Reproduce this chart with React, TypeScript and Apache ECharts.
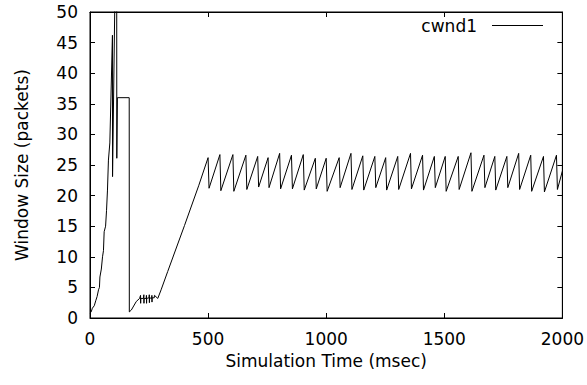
import React, { useEffect, useRef } from "react";
import * as echarts from "echarts";

// Slow start, loss and the 36-packet plateau (msec, packets)
const slowStartTime = [0, 5, 10, 18, 25, 30, 36, 40, 42, 48, 53, 57, 60, 66, 70, 74, 78, 84, 95, 95.5, 108, 113, 113.5, 116, 166, 166.5];
const slowStartCwnd = [0.8, 1, 1.6, 2, 2.9, 3.5, 4.6, 5, 6.7, 8, 10, 11, 14.1, 15, 17.6, 20.9, 25.8, 28.6, 46.2, 23.1, 60, 60, 26.1, 36, 36, 1];

// Recovery and linear growth
const recoveryTime = [175, 196, 210, 214, 214.5, 215, 226, 228, 228.5, 229, 238, 239, 239.5, 240, 250, 251, 251.5, 252, 261, 262, 262.5, 263, 272, 273, 287, 301, 329, 400, 460];
const recoveryCwnd = [1.3, 2.7, 3.2, 3.7, 2.4, 3.2, 3.2, 3.8, 2.4, 3.2, 3.2, 3.7, 2.4, 3.2, 3.3, 3.8, 2.5, 3.3, 3.2, 3.7, 2.6, 3.3, 3.3, 3.7, 3.2, 4.6, 7.6, 15.1, 21.6];

// Steady-state sawtooth
const peakTime = [500, 550, 605, 660, 710, 754, 803, 853, 903, 954, 1000, 1055, 1105, 1155, 1206, 1252, 1303, 1357, 1408, 1458, 1504, 1559, 1613, 1668, 1714, 1765, 1815, 1866, 1920, 1975];
const peakCwnd = [26.2, 26.7, 26.7, 26.6, 26.4, 26.2, 26.9, 26.6, 26.7, 26.1, 26.1, 26.2, 26.9, 26.5, 26.4, 26.2, 26.4, 26.9, 26.6, 26.4, 26.4, 26.4, 27.0, 26.6, 26.4, 26.4, 26.9, 26.6, 26.4, 26.6];
const troughTime = [504, 554, 609, 664, 714, 758, 807, 857, 907, 958, 1004, 1059, 1109, 1159, 1210, 1256, 1307, 1361, 1412, 1462, 1508, 1563, 1617, 1672, 1718, 1769, 1819, 1870, 1924, 1979];
const troughCwnd = [21.2, 20.8, 20.7, 21.0, 21.4, 21.3, 21.1, 21.1, 20.9, 21.1, 20.7, 21.3, 21.0, 20.9, 21.3, 20.9, 21.0, 21.1, 20.9, 21.3, 20.7, 21.0, 20.7, 21.3, 20.9, 21.3, 21.0, 20.7, 20.6, 21.0];
const endTime = [2000];
const endCwnd = [24.0];

const xTicks = [0, 500, 1000, 1500, 2000];
const yTicks = [0, 5, 10, 15, 20, 25, 30, 35, 40, 45, 50];

const seriesName = "cwnd1";
const xTitle = "Simulation Time (msec)";
const yTitle = "Window Size (packets)";

const FONT = "DejaVu Sans";

function buildData(): [number, number][] {
  const pts: [number, number][] = [];
  slowStartTime.forEach((t, i) => pts.push([t, slowStartCwnd[i]]));
  recoveryTime.forEach((t, i) => pts.push([t, recoveryCwnd[i]]));
  peakTime.forEach((t, i) => {
    pts.push([t, peakCwnd[i]]);
    pts.push([troughTime[i], troughCwnd[i]]);
  });
  endTime.forEach((t, i) => pts.push([t, endCwnd[i]]));
  return pts;
}

export default function App() {
  const ref = useRef<HTMLDivElement>(null);
  useEffect(() => {
    if (!ref.current) return;
    const chart = echarts.init(ref.current, undefined, { renderer: "svg" });
    const xMin = xTicks[0];
    const xMax = xTicks[xTicks.length - 1];
    const xInt = xTicks[1] - xTicks[0];
    const yMin = yTicks[0];
    const yMax = yTicks[yTicks.length - 1];
    const yInt = yTicks[1] - yTicks[0];
    const black = "#000";
    const labelStyle = { color: black, fontSize: 17, fontFamily: FONT };
    const common = {
      type: "value" as const,
      splitLine: { show: false },
      axisLine: { show: true, onZero: false, lineStyle: { color: black, width: 1 } },
      axisTick: { show: true, inside: true, length: 5, lineStyle: { color: black, width: 1 } },
    };
    const plain = (v: number) => String(v);
    chart.setOption({
      animation: false,
      backgroundColor: "#fff",
      grid: {
        left: 90,
        right: 21,
        top: 12,
        bottom: 67,
        containLabel: false,
        show: true,
        borderColor: black,
        borderWidth: 1,
        backgroundColor: "transparent",
      },
      xAxis: [
        {
          ...common,
          position: "bottom",
          min: xMin,
          max: xMax,
          interval: xInt,
          axisLabel: { ...labelStyle, margin: 12, formatter: plain },
          name: xTitle,
          nameLocation: "middle",
          nameGap: 34,
          nameTextStyle: labelStyle,
        },
        {
          ...common,
          position: "top",
          min: xMin,
          max: xMax,
          interval: xInt,
          axisLabel: { show: false },
        },
      ],
      yAxis: [
        {
          ...common,
          position: "left",
          min: yMin,
          max: yMax,
          interval: yInt,
          axisLabel: { ...labelStyle, margin: 12, formatter: plain },
          name: yTitle,
          nameLocation: "middle",
          nameGap: 60,
          nameTextStyle: labelStyle,
        },
        {
          ...common,
          position: "right",
          min: yMin,
          max: yMax,
          interval: yInt,
          axisLabel: { show: false },
        },
      ],
      graphic: [
        {
          type: "text",
          x: 477,
          y: 26,
          style: {
            text: seriesName,
            fill: black,
            font: `17px "${FONT}"`,
            textAlign: "right",
            textVerticalAlign: "middle",
          },
        },
        {
          type: "line",
          shape: { x1: 492, y1: 25.5, x2: 543, y2: 25.5 },
          style: { stroke: black, lineWidth: 1 },
        },
      ],
      series: [
        {
          name: seriesName,
          type: "line",
          xAxisIndex: 0,
          yAxisIndex: 0,
          data: buildData(),
          showSymbol: false,
          symbol: "none",
          clip: true,
          lineStyle: { color: black, width: 1 },
        },
      ],
    });
    return () => chart.dispose();
  }, []);
  return (
    <div
      ref={ref}
      style={{ position: "fixed", left: 0, top: 0, width: 587, height: 385, background: "#fff" }}
    />
  );
}
